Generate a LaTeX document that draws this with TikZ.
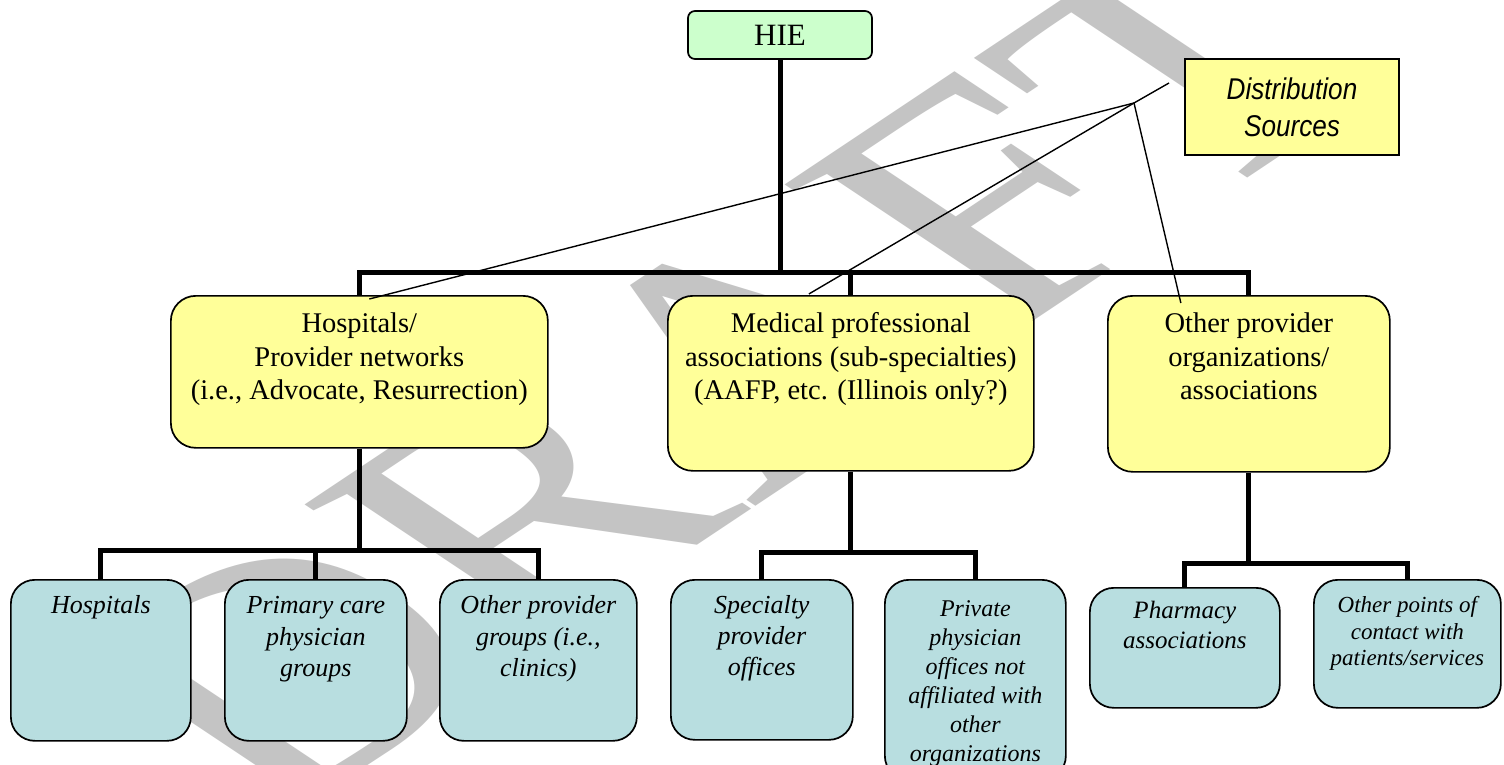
\documentclass[tikz,border=0pt]{standalone}
\usepackage{fontspec}
\usepackage{graphicx}
\setmainfont{Liberation Serif}
\newfontfamily\arialfont{Liberation Sans}
\definecolor{yel}{HTML}{FFFF99}
\definecolor{grn}{HTML}{CCFFCC}
\definecolor{blu}{RGB}{184,222,224}
\definecolor{wm}{RGB}{196,196,196}
\newcommand{\tb}[4]{\parbox[c][#2][t]{#1}{\centering\rule{0pt}{#3}#4}}
\tikzset{
  ybox/.style={draw, line width=1.7pt, fill=yel, rounded corners=25pt, inner sep=0pt, anchor=north west,
    font=\fontsize{28.5}{33.5}\selectfont},
  bbox/.style={draw, line width=1.7pt, fill=blu, rounded corners=24pt, inner sep=0pt, anchor=north west},
  hiebox/.style={draw, line width=1.7pt, fill=grn, rounded corners=7pt, inner sep=0pt,
    minimum width=184pt, minimum height=48pt, font=\fontsize{31}{36}\selectfont},
  dbox/.style={draw, line width=1.7pt, fill=yel, inner sep=0pt, minimum width=214pt, minimum height=96pt,
    align=center, font=\arialfont\itshape\fontsize{30}{37}\selectfont},
  conn/.style={line width=5pt, line join=miter},
  thinln/.style={line width=1.4pt},
}
\begin{document}
\begin{tikzpicture}[x=1pt, y=-1pt]
\useasboundingbox (0,0) rectangle (1504,765);
\fill[white] (0,0) rectangle (1504,765);
\clip (0,0) rectangle (1504,765);
% watermark
\begin{scope}[shift={(725,375)}, xscale=1.5, rotate=45]
  \node[transform shape, text=wm, font=\fontsize{326}{326}\selectfont, inner sep=0pt] (wmk) at (0,0) {DRAFT};
\end{scope}
% nodes
\node[hiebox] (hie) at (780,35) {HIE};
\node[dbox] (dist) at (1292,107) {\scalebox{0.87}[1]{Distribution}\\\scalebox{0.87}[1]{Sources}};
\node[ybox] (hosp) at (170,295) {\tb{377pt}{152pt}{37pt}{Hospitals/\\Provider networks\\(i.e., Advocate, Resurrection)}};
\node[ybox] (med) at (667,295) {\tb{366pt}{175pt}{37pt}{Medical professional\\associations (sub-specialties)\\(AAFP, etc. (Illinois only?)}};
\node[ybox] (oth) at (1107,295) {\tb{282pt}{176pt}{37pt}{Other provider\\organizations/\\associations}};
\node[bbox, font=\itshape\fontsize{26}{31.5}\selectfont] (h1) at (10,579) {\tb{180pt}{161pt}{34pt}{Hospitals}};
\node[bbox, font=\itshape\fontsize{26}{31.5}\selectfont] (h2) at (224,579) {\tb{182pt}{161pt}{34pt}{Primary care\\physician\\groups}};
\node[bbox, font=\itshape\fontsize{26}{31.5}\selectfont] (h3) at (439,579) {\tb{197pt}{161pt}{34pt}{Other provider\\groups (i.e.,\\clinics)}};
\node[bbox, font=\itshape\fontsize{26}{31}\selectfont] (m1) at (670,579) {\tb{182pt}{160pt}{34pt}{Specialty\\provider\\offices}};
\node[bbox, font=\itshape\fontsize{24}{29}\selectfont] (m2) at (884,579) {\tb{181pt}{200pt}{37pt}{Private\\physician\\offices not\\affiliated with\\other\\organizations}};
\node[bbox, font=\itshape\fontsize{25}{30}\selectfont] (o1) at (1089,587) {\tb{190pt}{120pt}{31pt}{Pharmacy\\associations}};
\node[bbox, font=\itshape\fontsize{23}{26.5}\selectfont] (o2) at (1313,579) {\tb{187pt}{128pt}{33pt}{Other points of\\contact with\\patients/services}};
% junction coordinates
\coordinate (bar1) at (0,272);
\coordinate (bar2) at (0,550);
\coordinate (bar3) at (0,552);
\coordinate (bar4) at (0,563);
% thick connectors
\draw[conn] (hie.south) -- (hie.south |- bar1);
\draw[conn] (hosp.north) -- (hosp.north |- bar1) -- (oth.north |- bar1) -- (oth.north);
\draw[conn] (med.north) -- (med.north |- bar1);
\draw[conn] (hosp.south) -- (hosp.south |- bar2);
\draw[conn] (h1.north) -- (h1.north |- bar2) -- (h3.north |- bar2) -- (h3.north);
\draw[conn] (h2.north) -- (h2.north |- bar2);
\draw[conn] (med.south) -- (med.south |- bar3);
\draw[conn] (m1.north) -- (m1.north |- bar3) -- (m2.north |- bar3) -- (m2.north);
\draw[conn] (oth.south) -- (oth.south |- bar4);
\draw[conn] (o1.north) -- (o1.north |- bar4) -- (o2.north |- bar4) -- (o2.north);
% thin distribution lines
\coordinate (J) at (1134,103);
\coordinate (Jend) at (1169,83);
\draw[thinln] (Jend) -- (J);
\draw[thinln] (J) -- ([shift={(10,4)}]hosp.north);
\draw[thinln] (J) -- ([shift={(-42,-1)}]med.north);
\draw[thinln] (J) -- ([shift={(-68,8)}]oth.north);
\end{tikzpicture}
\end{document}
